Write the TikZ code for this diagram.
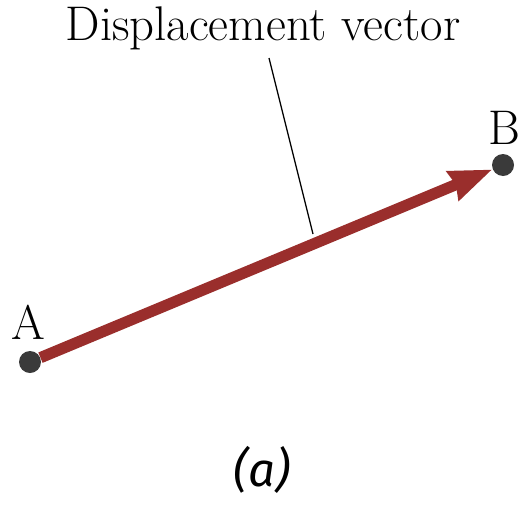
\documentclass[tikz,border=0pt]{standalone}
\usepackage{fontspec}
\newfontfamily\capfont{Fira Sans}
\usetikzlibrary{arrows.meta}
\definecolor{vecred}{HTML}{9A2E2C}
\definecolor{dotgray}{HTML}{3A3A3A}
\tikzset{
  point/.style={
    shape = circle,
    inner sep = 0pt,
    minimum size = 0.44cm,
    fill = dotgray
  },
  vec/.style={
    draw = vecred,
    line width = 6.4pt,
    -{Stealth[length=24pt, width=17pt, inset=1.5pt]}
  },
  lbl/.style={
    font=\fontsize{27.7}{32}\selectfont
  },
  pointer/.style={
    line width = 0.7pt
  }
}

\begin{document}
\begin{tikzpicture}[x=0.02cm,y=-0.02cm]
    \useasboundingbox (0,0) rectangle (519,504);
    \node[point] (A) at (30,362) {};
    \node[point] (B) at (503,165) {};
    \draw[vec] (A) -- (B);
    \node[lbl] (la) at (28,322) {A};
    \node[lbl] (lb) at (504,128) {B};
    \node[lbl, anchor=base] (title) at (263,40) {Displacement vector};
    \coordinate (lead) at (269,58);
    \coordinate (hit) at (313,234);
    \draw[pointer] (lead) -- (hit);
    \node[font=\capfont\itshape\fontsize{27}{32}\selectfont] (cap) at (262,470) {(a)};
\end{tikzpicture}
\end{document}
